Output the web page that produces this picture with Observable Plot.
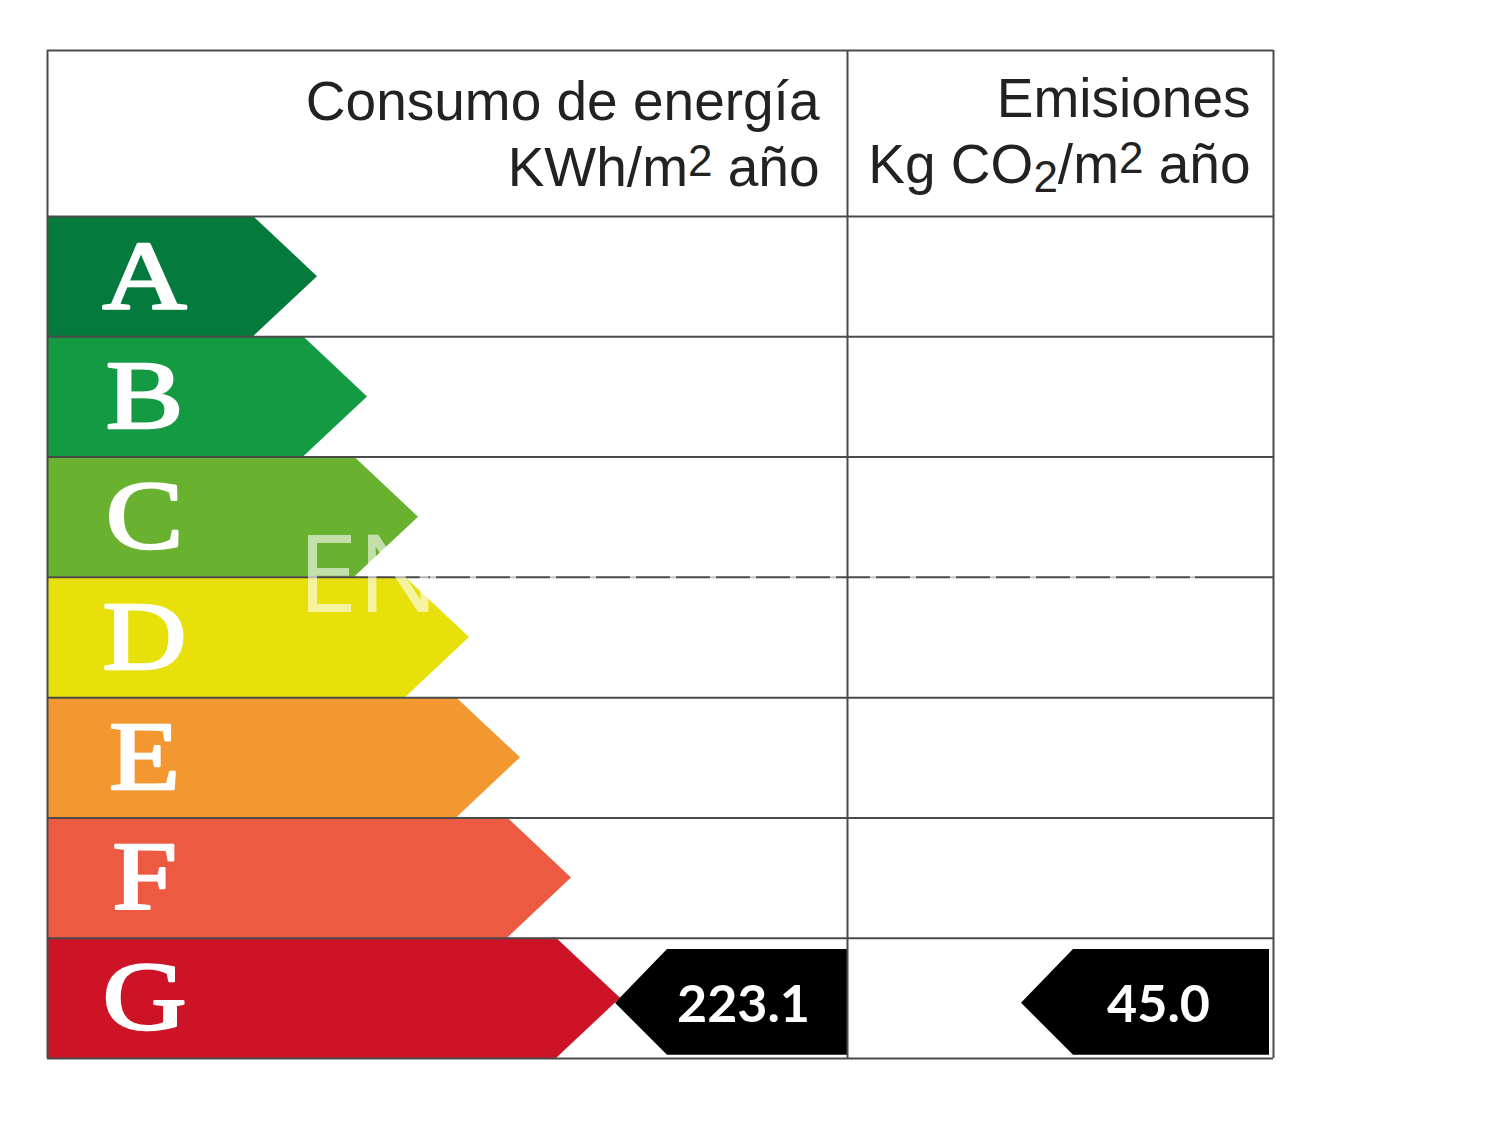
<!DOCTYPE html>
<html lang="es">
<head>
<meta charset="utf-8">
<script src="https://cdn.jsdelivr.net/npm/d3@7"></script>
<script src="https://cdn.jsdelivr.net/npm/@observablehq/plot@0.6"></script>
<style>
  html, body { margin: 0; padding: 0; background: #fff; }
  svg { display: block; }
</style>
</head>
<body>
<div id="chart"></div>
<script>
// Energy classes and the length of each arrow
const classes = ["A", "B", "C", "D", "E", "F", "G"];
const arrowLengths = [270, 320, 371, 422, 473, 524, 573];
const classColors = ["#057a3d", "#149a43", "#69b22f", "#e7e00a", "#f39731", "#ec5a41", "#cd1427"];
const arrowDepth = 64;

// Header cells
const headerTexts = ["Consumo de energía", "KWh/m^2 año", "Emisiones", "Kg CO_2/m^2 año"];
const headerRight = [772, 772, 1203, 1203];
const headerRow = [-0.95, -0.4, -0.974, -0.426];

// Certificate results (black pointers, on the row of class G)
const resultLabels = ["223.1", "45.0"];
const resultTips = [568, 974];
const resultRights = [801, 1222];
const resultCenters = [696, 1111];
const resultRow = 6;
const pointerDepth = 52;

// Table frame
const tableWidth = 1226;
const columnDivider = 800;
const headerTop = -1.38;
const rowLines = [headerTop, 0, 1, 2, 3, 4, 5, 6, 7];
const columnLines = [0, columnDivider, tableWidth];

// Tables built from the arrays above
const arrowPoints = classes.flatMap((c, i) => [
  {cls: c, row: i, len: arrowLengths[i] - arrowDepth},
  {cls: c, row: i + 0.5, len: arrowLengths[i]},
  {cls: c, row: i + 1, len: arrowLengths[i] - arrowDepth}
]);
const pointerPoints = resultLabels.flatMap((v, i) => [
  {v, row: resultRow + 0.093, x1: resultTips[i] + pointerDepth, x2: resultRights[i]},
  {v, row: resultRow + 0.54, x1: resultTips[i], x2: resultRights[i]},
  {v, row: resultRow + 0.974, x1: resultTips[i] + pointerDepth, x2: resultRights[i]}
]);

// Widen the class letters the way the reference's extended serif looks
function widen(index, scales, values, dims, context, next) {
  const g = next(index, scales, values, dims, context);
  d3.select(g).selectAll("text").attr("transform", function () {
    return (this.getAttribute("transform") || "") + " scale(1.2,1)";
  });
  return g;
}

// Turn ^2 and _2 into a raised or lowered small 2
function scripts(index, scales, values, dims, context, next) {
  const g = next(index, scales, values, dims, context);
  d3.select(g).selectAll("text").each(function () {
    const parts = this.textContent.split(/(\^2|_2)/);
    this.textContent = "";
    let restore = 0;
    for (const p of parts) {
      if (!p) continue;
      const t = d3.select(this).append("tspan");
      if (p === "^2" || p === "_2") {
        const shift = p === "^2" ? -10 : 9;
        t.text("2").attr("font-size", 44).attr("dy", shift);
        restore = -shift;
      } else {
        t.text(p);
        if (restore) t.attr("dy", restore);
        restore = 0;
      }
    }
  });
  return g;
}

const chart = Plot.plot({
  width: 1500,
  height: 1125,
  marginLeft: 47,
  marginRight: 227,
  marginTop: 50,
  marginBottom: 67,
  style: {background: "#fff"},
  x: {domain: [0, tableWidth], axis: null},
  y: {domain: [7, headerTop], axis: null},
  color: {domain: classes, range: classColors},
  marks: [
    Plot.areaX(arrowPoints, {y: "row", x1: () => 0, x2: "len", fill: "cls", z: "cls", curve: "linear"}),
    Plot.areaX(pointerPoints, {y: "row", x1: "x1", x2: "x2", z: "v", fill: "#000", curve: "linear"}),
    Plot.ruleY(rowLines, {stroke: "#4a4a4a", strokeWidth: 2}),
    Plot.ruleX(columnLines, {y1: headerTop, y2: 7, stroke: "#4a4a4a", strokeWidth: 2}),
    Plot.text(classes, {
      x: () => 97,
      y: (d, i) => i + 0.5,
      text: d => d,
      fill: "#fff",
      stroke: "#fff",
      strokeWidth: 2.5,
      fontFamily: "Liberation Serif",
      fontSize: 97,
      textAnchor: "middle",
      render: widen
    }),
    Plot.text(headerTexts, {
      x: (d, i) => headerRight[i],
      y: (d, i) => headerRow[i],
      text: d => d,
      fill: "#222",
      fontFamily: "Liberation Sans",
      fontSize: 55,
      textAnchor: "end",
      render: scripts
    }),
    Plot.text(resultLabels, {
      x: (d, i) => resultCenters[i],
      y: () => resultRow + 0.555,
      text: d => d,
      fill: "#fff",
      fontFamily: "Lato",
      fontWeight: 700,
      fontSize: 52,
      textAnchor: "middle"
    }),
    Plot.text(["EN"], {
      x: () => 250,
      y: () => 3,
      text: d => d,
      fill: "#fff",
      fillOpacity: 0.6,
      fontFamily: "Open Sans",
      fontSize: 108,
      textAnchor: "start"
    }),
    Plot.ruleY([3], {x1: 383, x2: 1148, stroke: "#fff", strokeOpacity: 0.7, strokeWidth: 3, strokeDasharray: "6 34"})
  ]
});
document.getElementById("chart").append(chart);
</script>
</body>
</html>
